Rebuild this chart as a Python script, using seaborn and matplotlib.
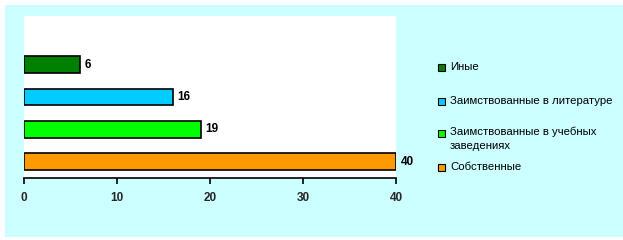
import matplotlib
matplotlib.use("Agg")
import matplotlib.pyplot as plt
import matplotlib.patches as mpatches
import seaborn as sns
import pandas as pd

categories = ["Иные", "Заимствованные в литературе", "Заимствованные в учебных\nзаведениях", "Собственные"]
values = [6, 16, 19, 40]
colors = ["#008000", "#00CCFF", "#00FF00", "#FF9900"]
xticks = [0, 10, 20, 30, 40]

sns.set_theme(style="white")
plt.rcParams["font.family"] = ["Liberation Sans", "DejaVu Sans"]

W, H = 623, 240
fig = plt.figure(figsize=(W / 100, H / 100), dpi=100, facecolor="white")

# cyan background panel
fig.patches.append(mpatches.Rectangle((5 / W, 3 / H), (W - 5) / W, (H - 8) / H,
                                      transform=fig.transFigure, facecolor="#CCFFFF",
                                      edgecolor="none", zorder=-10))

ax = fig.add_axes([24 / W, (H - 178) / H, (396 - 24) / W, (178 - 16) / H])
ax.set_zorder(1)
ax.set_facecolor("white")

df = pd.DataFrame({"cat": categories, "val": values})
sns.barplot(data=df, x="val", y="cat", hue="cat", palette=colors, order=categories,
            hue_order=categories, orient="h", width=0.52, edgecolor="black",
            linewidth=1.2, legend=False, saturation=1, ax=ax)

ax.set_xlim(0, 40)
ax.set_ylim(3.5, -1.5)
ax.set_xticks(xticks)
ax.set_xticklabels([str(t) for t in xticks], fontweight="bold", fontsize=8.5)
ax.set_yticks([])
ax.set_xlabel("")
ax.set_ylabel("")
for s in ["top", "right", "left"]:
    ax.spines[s].set_visible(False)
ax.spines["bottom"].set_color("black")
ax.spines["bottom"].set_linewidth(1.2)
ax.tick_params(axis="x", direction="out", length=4, width=1.2, color="black", pad=6, bottom=True)

for i, v in enumerate(values):
    ax.annotate(str(v), xy=(v, i), xytext=(3.5, 0), textcoords="offset points",
                va="center", ha="left", fontsize=8.5, fontweight="bold", color="black",
                annotation_clip=False)

# legend
leg_y = [67, 101, 133, 167]
for lab, col, y in zip(categories, colors, leg_y):
    fig.patches.append(mpatches.Rectangle((438 / W, (H - y - 3.5) / H), 7 / W, 7 / H,
                                          transform=fig.transFigure, facecolor=col,
                                          edgecolor="black", linewidth=0.8, zorder=3))
for lab, y in zip(categories, leg_y):
    if "\n" in lab:
        fig.text(450 / W, (H - y + 6.5) / H, lab, fontsize=8.2, va="top",
                 ha="left", color="black", linespacing=1.45)
    else:
        fig.text(450 / W, (H - y) / H, lab, fontsize=8.2, va="center",
                 ha="left", color="black")

fig.savefig("out.png", dpi=100, facecolor="white")
